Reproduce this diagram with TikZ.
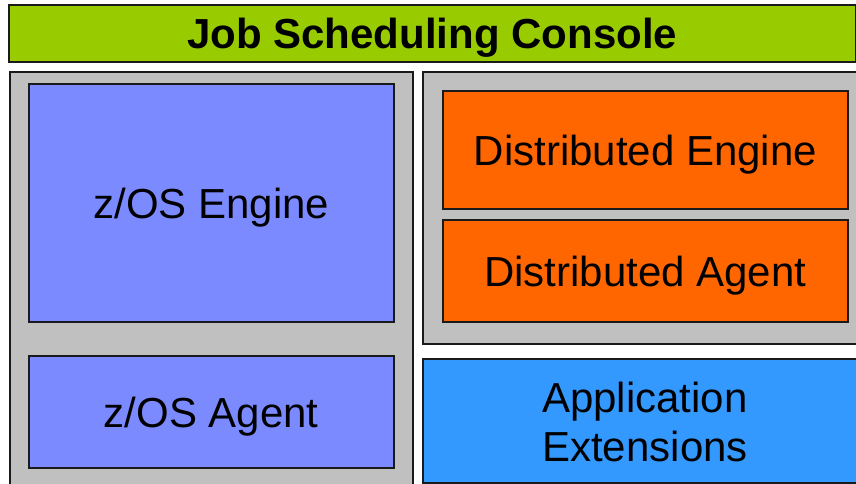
\documentclass[tikz,border=0pt]{standalone}
\usepackage{fontspec}
\setmainfont{Liberation Sans}
\definecolor{titlegreen}{HTML}{99CC00}
\definecolor{panelgray}{HTML}{C0C0C0}
\definecolor{zosblue}{HTML}{7B8BFF}
\definecolor{distorange}{HTML}{FF6600}
\definecolor{appblue}{HTML}{3399FF}
\definecolor{edge}{HTML}{1A1A1A}
\tikzset{
  box/.style={draw=edge, line width=1.6pt, rectangle, inner sep=0pt, anchor=north west, font=\fontsize{42}{48}\selectfont, text depth=0pt},
}
\begin{document}
\begin{tikzpicture}[x=1pt,y=-1pt]
\useasboundingbox (0,0) rectangle (856,483);
\fill[white] (0,0) rectangle (856,483);
% title
\node[box, fill=titlegreen, minimum width=847pt, minimum height=57pt, font=\bfseries\fontsize{42}{48}\selectfont] (title) at (8,4) {Job Scheduling Console};
% left panel
\node[box, fill=panelgray, minimum width=403pt, minimum height=430pt] (left) at (9,71) {};
\node[box, fill=zosblue, minimum width=365pt, minimum height=238pt] (zeng) at (28,83) {z/OS Engine};
\node[box, fill=zosblue, minimum width=365pt, minimum height=112pt] (zag) at (28,355) {z/OS Agent};
% right panel
\node[box, fill=panelgray, minimum width=450pt, minimum height=272pt] (right) at (422,71) {};
\node[box, fill=distorange, minimum width=405pt, minimum height=118pt] (deng) at (442,90) {Distributed Engine};
\node[box, fill=distorange, minimum width=405pt, minimum height=102pt] (dag) at (442,219) {Distributed Agent};
% application extensions
\node[box, fill=appblue, minimum width=450pt, minimum height=124pt] (app) at (422,358) {};
\node[font=\fontsize{42}{49}\selectfont, align=center, inner sep=0pt] (apptext) at (645,422) {Application\\Extensions};
\end{tikzpicture}
\end{document}
